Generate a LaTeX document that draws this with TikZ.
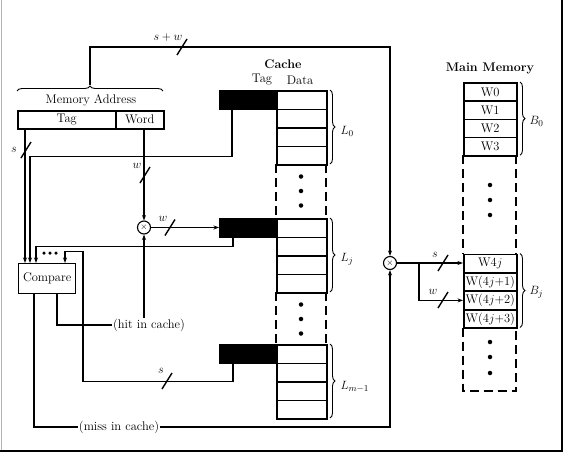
\documentclass[tikz,border=0pt]{standalone}
\usetikzlibrary{decorations.pathreplacing,arrows.meta,calc}
\newcommand\slashmk[2]{\draw[line width=1.4pt] (#1-5,#2+8) -- (#1+5,#2-8);}
\begin{document}
\begin{tikzpicture}[x=1pt,y=-1pt,
  every node/.style={font=\fontsize{12.5}{14}\selectfont},
  ln/.style={line width=1.1pt},
  arr/.style={ln,-{Stealth[length=5.5pt,width=4pt]}},
  cell/.style={draw,line width=1.5pt,minimum width=50pt,minimum height=18.5pt,inner sep=0pt,anchor=north west},
  tagblk/.style={draw,fill=black,line width=0.8pt,minimum width=57pt,minimum height=18.5pt,inner sep=0pt,anchor=north west},
  mcell/.style={draw,line width=1.5pt,minimum width=53pt,minimum height=18.3pt,inner sep=0pt,anchor=north west},
  dashln/.style={line width=1.6pt,dash pattern=on 9pt off 5pt},
  brc/.style={decorate,decoration={brace,amplitude=5pt},line width=0.9pt},
  dot/.style={circle,fill=black,inner sep=0pt,minimum size=4.5pt},
  lbl/.style={inner sep=1pt},
  mult/.style={circle,draw,line width=1.1pt,minimum size=13pt,inner sep=0pt,font=\small}]
\useasboundingbox (0,0) rectangle (565,455);
% frame
\draw[gray!60,line width=1pt] (1,0) -- (1,452);
\draw[line width=1.5pt] (562,0) -- (562,451) -- (0,451);

% memory address
\node at (91,100) {Memory Address};
\node[draw,line width=1.5pt,minimum width=98pt,minimum height=18pt,inner sep=0pt,anchor=north west] (mtag) at (17,110) {Tag};
\node[draw,line width=1.5pt,minimum width=48pt,minimum height=18pt,inner sep=0pt,anchor=north west] (mword) at (115,110) {Word};
\draw[brc] (17,91) -- (163,91);
\coordinate (bt) at (90,85);

% cache
\node[font=\bfseries\fontsize{12.5}{14}\selectfont] at (283,64) {Cache};
\node at (262,80) {Tag};
\node at (300,80) {Data};
\foreach \T/\nm in {90/t0,218/tj,344/tm}{
  \node[tagblk] (\nm) at (219,\T) {};
  \foreach \k in {0,1,2,3}{
    \node[cell] (\nm d\k) at (276,\T+\k*18.5) {};
  }
  \draw[brc] (330,\T) -- (330,\T+74);
}
\node[anchor=west] at (337,131) {$L_0$};
\node[anchor=west] at (337,259) {$L_j$};
\node[anchor=west] at (337,387) {$L_{m-1}$};
\foreach \a/\b in {164/218,292/344}{
  \draw[dashln] (276,\a) -- (276,\b);
  \draw[dashln] (326,\a) -- (326,\b);
  \foreach \d in {1,2,3}{\node[dot] at (301,\a+\d*14.5-2) {};}
}

% main memory
\node[font=\bfseries\fontsize{12.5}{14}\selectfont] at (490,68) {Main Memory};
\node[mcell] (w0) at (463,82) {W0};
\node[mcell] (w1) at (463,100.3) {W1};
\node[mcell] (w2) at (463,118.6) {W2};
\node[mcell] (w3) at (463,136.9) {W3};
\node[mcell] (w4) at (463,253.5) {W4$j$};
\node[mcell] (w5) at (463,272) {W(4$j$+1)};
\node[mcell] (w6) at (463,290.5) {W(4$j$+2)};
\node[mcell] (w7) at (463,309) {W(4$j$+3)};
\draw[brc] (520,82) -- (520,155.2);
\draw[brc] (520,253.5) -- (520,327.5);
\node[anchor=west] at (526,121) {$B_0$};
\node[anchor=west] at (526,292) {$B_j$};
\draw[dashln] (463,155.2) -- (463,253.5);
\draw[dashln] (516,155.2) -- (516,253.5);
\draw[dashln] (463,327.5) -- (463,391) -- (516,391) -- (516,327.5);
\foreach \y in {185,200,215,342,357,373}{\node[dot] at (490,\y) {};}

% compare and multiplexers
\node[draw,line width=1.3pt,minimum width=57pt,minimum height=30pt,inner sep=0pt,anchor=north west] (cmp) at (18,263) {Compare};
\node[mult] (ox1) at (144,227.5) {$\times$};
\node[mult] (ox2) at (390,263) {$\times$};
\node[lbl] (hit) at (149,325) {(hit in cache)};
\node[lbl] (miss) at (119,427) {(miss in cache)};
\foreach \x in {44,50,56}{\node[dot,minimum size=3.5pt] at (\x,253) {};}

% connectors
\draw[arr] (bt) -- ++(0,-38) -| (ox2.north);
\slashmk{182}{47}
\node at (168,37) {$s+w$};

\draw[arr] ([xshift=8pt]mtag.south west) -- ([xshift=7pt]cmp.north west);
\slashmk{26}{150}
\node at (14,150) {$s$};

\draw[arr] ([xshift=13pt]t0.south west) -- ++(0,47.5) -| ([xshift=12pt]cmp.north west);
\draw[arr] ([xshift=14pt]tj.south west) -- ++(0,9.5) -| ([xshift=18pt]cmp.north west);
\draw[arr] ([xshift=14pt]tm.south west) -- ++(0,18.5) -- ++(-150,0) -- ++(0,-130) -| ([xshift=47pt]cmp.north west);
\slashmk{167}{381}
\node at (161,371) {$s$};

\draw[arr] (mword.south -| ox1) -- (ox1.north);
\slashmk{145}{175}
\node at (137,166) {$w$};

\draw[arr] (ox1.east) -- (ox1.east -| tj.west);
\slashmk{170}{227.5}
\node at (163,219) {$w$};

\draw[ln] ([xshift=39pt]cmp.south west) |- (hit.west);
\draw[arr] (ox1 |- hit.north) -- (ox1.south);

\draw[ln] ([xshift=16pt]cmp.south west) |- (miss.west);
\draw[arr] (miss.east) -| (ox2.south);

\coordinate (br) at (419,263);
\draw[arr] (ox2.east) -- (ox2.east -| w4.west);
\draw[arr] (br) |- (w6.west);
\slashmk{443}{263}
\node at (435,255) {$s$};
\slashmk{443}{300}
\node at (433,292) {$w$};
\end{tikzpicture}
\end{document}
